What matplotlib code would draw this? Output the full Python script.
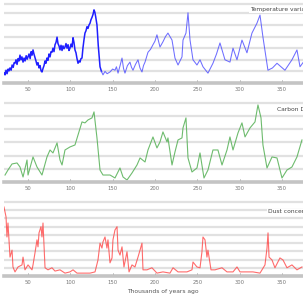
import matplotlib
matplotlib.use("Agg")
import matplotlib.pyplot as plt

# ---- data (thousands of years ago) ----
temp_kyr = [22.0, 22.8, 24.0, 25.2, 26.5, 27.6, 28.7, 30.0, 31.2, 32.5, 33.6, 34.6, 35.8, 37.0, 38.2, 39.3,
            40.5, 41.6, 42.8, 44.1, 45.3, 46.5, 47.8, 49.0, 50.0, 51.2, 52.5, 53.7, 54.8, 55.9, 57.0, 58.2,
            59.4, 60.6, 61.8, 63.0, 64.2, 65.4, 66.5, 67.7, 68.9, 70.1, 71.2, 72.4, 73.6, 74.8, 76.0, 77.2,
            78.3, 79.5, 80.7, 81.9, 83.1, 84.3, 85.4, 86.6, 87.8, 89.0, 90.2, 91.3, 92.5, 93.7, 94.9, 96.1,
            97.3, 98.4, 99.6, 100.8, 102.0, 103.2, 104.3, 105.5, 106.7, 107.9, 109.1, 110.3, 111.4, 112.6,
            113.8, 114.9, 116.1, 117.3, 118.5, 119.7, 120.9, 122.1, 123.3, 124.4, 125.6, 126.8, 128.0, 129.0,
            130.0, 131.5, 133.0, 135.1, 136.8, 138.6, 141.0, 143.5, 146.9, 150.0, 152.8, 154.5, 156.4, 158.8,
            161.1, 162.9, 164.6, 167.5, 170.5, 172.3, 174.1, 177.0, 180.0, 182.3, 184.7, 186.5, 188.3, 191.8,
            194.8, 197.7, 200.0, 202.4, 206.0, 209.5, 212.5, 215.4, 220.2, 223.7, 227.3, 232.0, 233.2, 236.7,
            239.1, 241.5, 245.0, 249.7, 253.3, 256.8, 262.7, 268.6, 272.8, 276.9, 282.8, 288.7, 292.3, 297.0,
            302.9, 308.8, 314.7, 320.6, 324.2, 327.7, 333.6, 339.0, 344.3, 349.0, 353.7, 362.0, 367.9, 371.5,
            375.0]
temp_val = [-8.3, -8.6, -7.8, -8.4, -7.6, -7.9, -7.4, -7.8, -6.9, -7.3, -6.5, -6.6, -6.0, -6.8, -5.8, -6.2,
            -5.2, -6.0, -5.5, -6.4, -5.7, -6.2, -5.3, -5.9, -5.5, -5.0, -5.8, -4.6, -5.2, -4.3, -5.0, -5.6,
            -6.2, -6.9, -6.5, -7.4, -7.0, -7.9, -8.1, -7.5, -7.0, -6.2, -6.6, -5.7, -6.1, -5.0, -5.5, -4.6,
            -4.7, -4.0, -4.6, -3.4, -3.0, -2.1, -3.2, -3.6, -4.3, -3.5, -4.4, -3.6, -4.1, -3.8, -3.2, -4.0,
            -3.4, -4.4, -4.0, -3.3, -3.8, -2.2, -3.0, -4.3, -4.8, -5.8, -6.6, -6.2, -6.4, -5.8,
            -5.7, -4.0, -2.6, -1.4, -1.0, -0.3, -0.6, 0.0, 0.3, 0.9, 1.3, 1.8, 2.6, 2.2,
            1.4, 0.0, -3.5, -7.2, -8.0, -8.6, -8.0, -8.4, -8.1, -7.6, -7.8, -7.2, -8.3, -7.0,
            -5.7, -7.5, -8.3, -7.0, -6.4, -7.3, -7.8, -6.8, -6.0, -7.4, -8.1, -7.0, -6.4, -4.7,
            -4.2, -3.4, -2.8, -1.7, -3.8, -2.9, -2.0, -1.4, -2.6, -5.7, -6.9, -5.5, -2.6, -1.4,
            2.1, -2.6, -6.0, -6.9, -6.0, -7.2, -8.3, -6.6, -5.0, -3.1, -6.0, -6.4, -4.0, -6.0,
            -2.6, -4.8, -1.4, 0.3, 1.7, -2.1, -7.8, -7.4, -6.6, -7.2, -7.8, -6.0, -4.3, -7.2,
            -6.5]

co2_kyr = [22.8, 26.3, 31.1, 37.0, 40.5, 44.1, 48.8, 50.0, 55.9, 60.6, 66.5, 72.4, 76.0, 79.5, 84.3, 87.8,
           90.2, 93.7, 99.6, 105.5, 109.1, 113.8, 117.3, 120.9, 125.6, 128.0, 131.5, 135.1, 138.6, 146.9,
           152.8, 158.7, 162.3, 167.0, 172.9, 178.8, 182.4, 188.3, 191.8, 197.7, 202.4, 206.0, 209.5, 214.3,
           215.4, 220.2, 223.7, 227.3, 232.0, 233.2, 236.7, 239.1, 243.8, 249.7, 253.3, 258.0, 262.7, 268.6,
           274.5, 279.3, 285.2, 288.7, 292.3, 298.2, 302.9, 306.5, 312.4, 318.3, 321.8, 325.4, 327.7, 332.5,
           338.4, 344.3, 350.2, 356.1, 362.0, 367.9, 373.8]
co2_val = [190.6, 198.2, 207.4, 208.9, 202.8, 187.6, 213.4, 190.6, 218.0, 202.8, 190.6, 218.0, 228.6, 224.1,
           239.3, 213.4, 205.8, 228.6, 233.2, 236.2, 251.4, 271.2, 269.7, 274.2, 277.3, 286.4, 246.9, 198.2,
           190.6, 190.6, 186.1, 201.3, 187.6, 183.0, 193.7, 205.8, 216.5, 210.4, 228.6, 248.4, 231.7, 240.8,
           256.0, 240.8, 246.9, 205.8, 225.6, 243.8, 246.9, 262.1, 277.3, 216.5, 195.2, 201.3, 224.1, 186.1,
           198.2, 228.6, 228.6, 205.8, 228.6, 248.4, 228.6, 254.5, 269.7, 248.4, 262.1, 271.2, 297.0, 277.3,
           236.2, 201.3, 218.0, 216.5, 186.1, 198.2, 202.8, 218.0, 243.8]

dust_kyr = [21.6, 24.0, 25.1, 26.3, 28.7, 31.1, 32.2, 34.6, 38.2, 42.9, 44.1, 46.4, 50.0, 54.7, 55.9, 58.2,
            60.6, 61.8, 63.0, 65.3, 66.5, 67.7, 70.1, 73.6, 78.3, 81.9, 87.8, 93.7, 99.6, 103.2, 107.9, 113.8,
            123.3, 129.2, 132.7, 135.1, 137.4, 138.6, 141.0, 143.3, 144.5, 146.9, 149.3, 150.4, 152.8, 155.2,
            156.4, 158.7, 161.1, 163.4, 167.0, 169.4, 172.9, 176.4, 180.0, 182.4, 184.7, 185.9, 190.6, 196.5,
            202.4, 209.5, 217.8, 221.4, 227.3, 237.9, 243.8, 245.0, 249.7, 253.3, 255.6, 256.8, 259.2, 261.5,
            262.7, 266.3, 271.0, 279.3, 285.2, 292.3, 297.0, 300.6, 308.8, 315.9, 324.2, 330.1, 332.5, 333.7,
            334.9, 338.4, 341.9, 347.8, 351.4, 356.1, 362.0, 367.9, 373.8]
dust_val = [1.68, 1.44, 0.95, 1.29, 0.46, 0.63, 0.22, 0.10, 0.22, 0.27, 0.46, 0.15, 0.27, 0.15, 0.27, 0.56,
            0.88, 0.71, 1.05, 1.20, 0.95, 1.29, 0.20, 0.15, 0.20, 0.12, 0.15, 0.07, 0.10, 0.15, 0.07, 0.07,
            0.07, 0.10, 0.39, 0.80, 0.68, 0.83, 0.95, 0.68, 0.88, 0.32, 0.44, 0.88, 1.12, 1.20,
            0.63, 0.51, 0.71, 0.22, 0.59, 0.10, 0.27, 0.22, 0.46, 0.63, 0.80, 0.15, 0.15, 0.20,
            0.07, 0.10, 0.07, 0.20, 0.10, 0.10, 0.15, 0.34, 0.22, 0.20, 0.59, 0.95, 0.88, 0.46,
            0.63, 0.15, 0.15, 0.20, 0.10, 0.10, 0.22, 0.10, 0.10, 0.10, 0.07, 0.27, 0.68, 1.05,
            0.46, 0.39, 0.20, 0.44, 0.39, 0.20, 0.27, 0.15, 0.22]

xticks = [50, 100, 150, 200, 250, 300, 350]
titles = ["Temperature variation (\u0394T)", "Carbon Dioxide", "Dust concentration"]

# ---- figure ----
W, H = 303, 300
fig = plt.figure(figsize=(W / 100, H / 100), dpi=100)

XMIN, XMAX = 21.6, 397.5
L, R = 4 / W, 322 / W

def make_ax(top_px, bot_px, ylim, grid, title, title_xy):
    ax = fig.add_axes([L, 1 - bot_px / H, R - L, (bot_px - top_px) / H])
    ax.set_xlim(XMIN, XMAX)
    ax.set_ylim(*ylim)
    for g in grid:
        ax.axhline(g, color="#e1e1e1", lw=1.6, zorder=0)
    for s in ["top", "left", "right"]:
        ax.spines[s].set_visible(False)
    ax.spines["bottom"].set_color("#c4c4c4")
    ax.spines["bottom"].set_linewidth(2.6)
    ax.set_yticks([])
    ax.set_xticks(xticks)
    ax.set_xticklabels([str(t) for t in xticks])
    ax.tick_params(axis="x", direction="in", length=2, width=0.6, color="#888888",
                   labelsize=3.8, labelcolor="#777777", pad=3)
    ax.text(title_xy[0], title_xy[1], title, fontsize=4.3, color="#444444",
            ha="left", va="center", clip_on=False, zorder=3,
            bbox=dict(facecolor="white", edgecolor="none", pad=0.6))
    ax.patch.set_alpha(0)
    return ax

ax1 = make_ax(0, 83, (-10, 4.3), [-8, -6, -4, -2, 0, 2, 3.6], titles[0], (312, 2.7))
split = 97  # index where the densely sampled recent record ends
ax1.plot(temp_kyr[:split], temp_val[:split], color="#1f1fff", lw=1.1, zorder=2, solid_joinstyle="round")
ax1.plot(temp_kyr[split - 1:], temp_val[split - 1:], color="#4a4aff", lw=0.75, alpha=0.8, zorder=2,
         solid_joinstyle="round")

ax2 = make_ax(97, 182, (180, 309), [200, 220, 240, 260, 280, 300], titles[1], (344, 289.5))
ax2.plot(co2_kyr, co2_val, color="#55b055", lw=0.8, alpha=0.85, zorder=2, solid_joinstyle="round")

ax3 = make_ax(200, 276, (0, 1.85), [0.2, 0.4, 0.6, 0.8, 1.0, 1.2, 1.4, 1.6, 1.8], titles[2], (333.6, 1.56))
ax3.plot(dust_kyr, dust_val, color="#ff3b3b", lw=0.8, alpha=0.75, zorder=2, solid_joinstyle="round")
ax3.set_xlabel("Thousands of years ago", fontsize=4.3, color="#555555", labelpad=3)

fig.savefig("out.png", dpi=100)
